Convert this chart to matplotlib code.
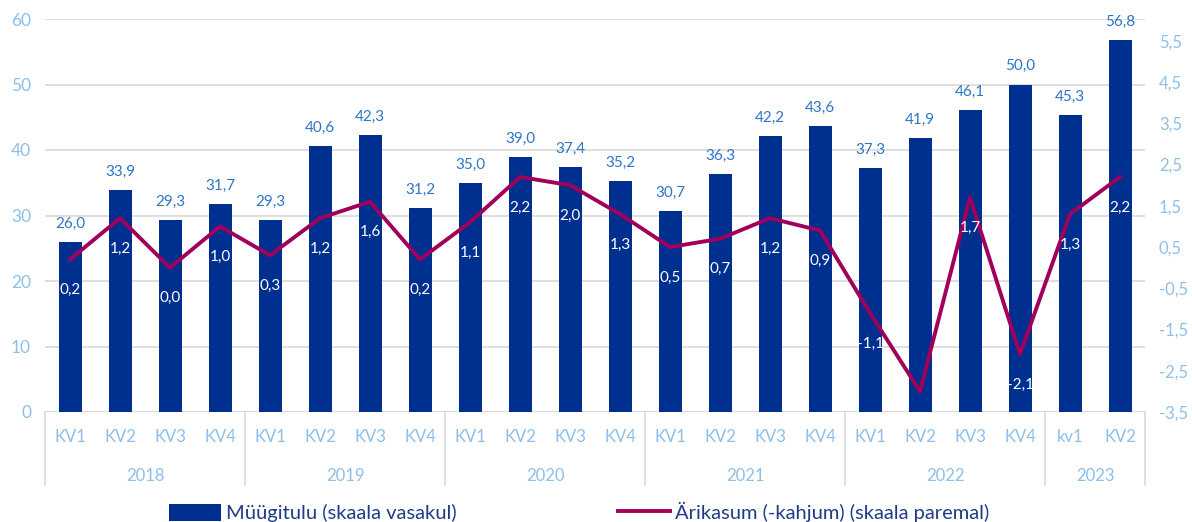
import matplotlib.pyplot as plt
import numpy as np

# quarters and years
quarters = ['KV1', 'KV2', 'KV3', 'KV4'] * 5 + ['kv1', 'KV2']
years = ['2018', '2019', '2020', '2021', '2022', '2023']
year_sizes = [4, 4, 4, 4, 4, 2]

# Müügitulu (left axis)
revenue = [26.0, 33.9, 29.3, 31.7, 29.3, 40.6, 42.3, 31.2, 35.0, 39.0, 37.4, 35.2,
           30.7, 36.3, 42.2, 43.6, 37.3, 41.9, 46.1, 50.0, 45.3, 56.8]
# Ärikasum (-kahjum) (right axis)
profit = [0.2, 1.2, 0.0, 1.0, 0.3, 1.2, 1.6, 0.2, 1.1, 2.2, 2.0, 1.3,
          0.5, 0.7, 1.2, 0.9, -1.1, -3.0, 1.7, -2.1, 1.3, 2.2]
# the one profit label that is not shown in the original
hidden_profit_labels = [17]

BAR = '#00308F'
LINE = '#A0005A'
TICK = '#8DBFEA'
VAL = '#2E75C6'
GRID = '#D9D9D9'
LEG = '#1F3C88'

plt.rcParams['font.family'] = ['Lato', 'DejaVu Sans']

fig = plt.figure(figsize=(11.92, 5.22), dpi=100)
ax = fig.add_axes([45 / 1192, 110 / 522, 1100 / 1192, 393 / 522])
ax2 = ax.twinx()

x = np.arange(len(revenue))
bars = ax.bar(x, revenue, width=0.46, color=BAR, zorder=2, label='Müügitulu (skaala vasakul)')
ax.set_xlim(-0.5, len(revenue) - 0.5)
ax.set_ylim(0, 60)
ax.set_yticks(range(0, 61, 10))
ax.grid(axis='y', color=GRID, linewidth=1.2, zorder=0)
ax.set_axisbelow(True)

for xi, v in zip(x, revenue):
    ax.annotate(f'{v:.1f}'.replace('.', ','), (xi, v), xytext=(0, 8), textcoords='offset points',
                ha='center', va='bottom', color=VAL, fontsize=11)

line, = ax2.plot(x, profit, color=LINE, linewidth=2.8, zorder=3,
                 label='Ärikasum (-kahjum) (skaala paremal)')
ax2.set_ylim(-3.5, 6.03)
ax2.set_yticks(np.arange(-3.5, 5.6, 1.0))
ax2.set_yticklabels([f'{t:.1f}'.replace('.', ',') for t in np.arange(-3.5, 5.6, 1.0)])

for i, (xi, v) in enumerate(zip(x, profit)):
    if i in hidden_profit_labels:
        continue
    ax2.annotate(f'{v:.1f}'.replace('.', ','), (xi, v), xytext=(0, -22), textcoords='offset points',
                 ha='center', va='center', color='white', fontsize=11, zorder=4)

# axes styling
for a in (ax, ax2):
    for s in ['top', 'left', 'right', 'bottom']:
        a.spines[s].set_visible(False)
ax.axhline(0, color=GRID, linewidth=1.5, zorder=1)
ax.tick_params(axis='y', length=0, pad=10, labelcolor=TICK, labelsize=12.5)
ax2.tick_params(axis='y', length=0, pad=10, labelcolor=TICK, labelsize=12)

ax.set_xticks(x)
ax.set_xticklabels(quarters)
ax.tick_params(axis='x', length=0, pad=12, labelcolor=TICK, labelsize=12)

# year groups
trans = ax.get_xaxis_transform()
start = -0.5
ax.plot([start, start], [0, -73 / 393], color=GRID, linewidth=1.2, transform=trans, clip_on=False)
for yr, n in zip(years, year_sizes):
    end = start + n
    ax.plot([end, end], [0, -73 / 393], color=GRID, linewidth=1.2, transform=trans, clip_on=False)
    ax.text((start + end) / 2, -64 / 393, yr, transform=trans, ha='center', va='center',
            color=TICK, fontsize=12)
    start = end

fig.legend(handles=[bars, line], loc='lower center', bbox_to_anchor=(0.486, -0.035), ncol=2,
           frameon=False, fontsize=14.5, labelcolor=LEG, handlelength=2.6, handleheight=0.9,
           columnspacing=8.0, handletextpad=0.25)

fig.savefig('out.png', dpi=100)
